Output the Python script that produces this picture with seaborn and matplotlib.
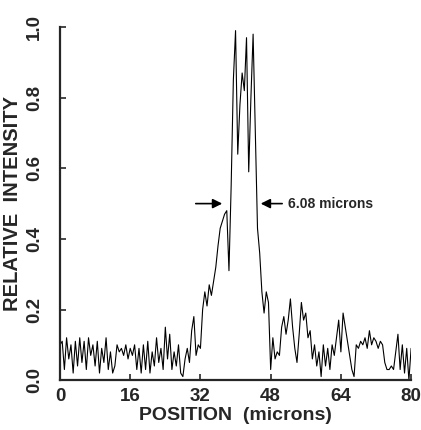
import numpy as np
import pandas as pd
import seaborn as sns
import matplotlib.pyplot as plt

# intensity profile, one sample every 0.5 micron
intensity = [
    0.10, 0.11, 0.03, 0.12, 0.06, 0.10, 0.02, 0.11, 0.04, 0.12,
    0.05, 0.11, 0.03, 0.12, 0.07, 0.10, 0.04, 0.11, 0.02, 0.09,
    0.05, 0.12, 0.03, 0.08, 0.02, 0.04, 0.10, 0.08, 0.09, 0.07,
    0.10, 0.06, 0.09, 0.07, 0.10, 0.03, 0.09, 0.02, 0.10, 0.03,
    0.11, 0.02, 0.08, 0.04, 0.12, 0.05, 0.09, 0.03, 0.15, 0.06,
    0.13, 0.03, 0.08, 0.04, 0.10, 0.02, 0.01, 0.06, 0.09, 0.05,
    0.14, 0.18, 0.07, 0.10, 0.09, 0.20, 0.25, 0.21, 0.27, 0.24,
    0.28, 0.32, 0.38, 0.43, 0.45, 0.47, 0.48, 0.31, 0.55, 0.85,
    0.99, 0.64, 0.78, 0.87, 0.82, 0.97, 0.59, 0.80, 0.98, 0.70,
    0.43, 0.36, 0.25, 0.19, 0.25, 0.22, 0.03, 0.12, 0.06, 0.08,
    0.07, 0.15, 0.18, 0.13, 0.17, 0.23, 0.15, 0.09, 0.05, 0.13,
    0.22, 0.17, 0.19, 0.12, 0.14, 0.06, 0.10, 0.04, 0.08, 0.01,
    0.10, 0.04, 0.09, 0.03, 0.10, 0.07, 0.12, 0.17, 0.08, 0.19,
    0.15, 0.11, 0.07, 0.03, 0.01, 0.10, 0.09, 0.11, 0.10, 0.12,
    0.09, 0.14, 0.10, 0.12, 0.11, 0.09, 0.11, 0.10, 0.05, 0.03,
    0.03, 0.04, 0.03, 0.08, 0.13, 0.03, 0.10, 0.02, 0.09, 0.00,
    0.09,
]
position = np.arange(len(intensity)) * 0.5

x_ticks = [0, 16, 32, 48, 64, 80]
y_ticks = [0.0, 0.2, 0.4, 0.6, 0.8, 1.0]
fwhm_left = 37.6
fwhm_right = 45.1
fwhm_label = '6.08 microns'

df = pd.DataFrame({'position': position, 'intensity': intensity})

sns.set_style('ticks')
plt.rcParams['font.family'] = ['Liberation Sans', 'DejaVu Sans']
plt.rcParams['font.weight'] = 'bold'

fig = plt.figure(figsize=(4.21, 4.30), dpi=100)
ax = fig.add_axes([0.1425, 0.116, 0.834, 0.821])

sns.lineplot(data=df, x='position', y='intensity', color='black', lw=0.8, ax=ax)

ax.set_xlim(0, 80)
ax.set_ylim(0, 1.0)
ax.set_xticks(x_ticks)
ax.set_yticks(y_ticks)
ax.set_xticklabels([str(t) for t in x_ticks], fontsize=13.5, fontweight='bold')
ax.set_yticklabels(['%.1f' % t for t in y_ticks], fontsize=13.5, fontweight='bold',
                   rotation=90, va='center')
ax.tick_params(direction='in', length=4, width=1.2)
ax.tick_params(axis='y', pad=12)
ax.tick_params(axis='x', pad=6)
sns.despine(ax=ax)
for s in ['left', 'bottom']:
    ax.spines[s].set_linewidth(1.6)

ax.set_xlabel('POSITION  (microns)', fontsize=14, fontweight='bold', labelpad=1)
ax.set_ylabel('RELATIVE  INTENSITY', fontsize=14.5, fontweight='bold', labelpad=3)

arrow = dict(arrowstyle='-|>', color='black', lw=1.2, mutation_scale=14)
ax.annotate('', xy=(fwhm_left, 0.5), xytext=(30.3, 0.5), arrowprops=arrow)
ax.annotate(fwhm_label, xy=(fwhm_right, 0.5), xytext=(52.0, 0.5),
            ha='left', va='center', fontsize=10, fontweight='bold',
            fontstretch='condensed', arrowprops=arrow)

fig.savefig('out.png', dpi=100)
